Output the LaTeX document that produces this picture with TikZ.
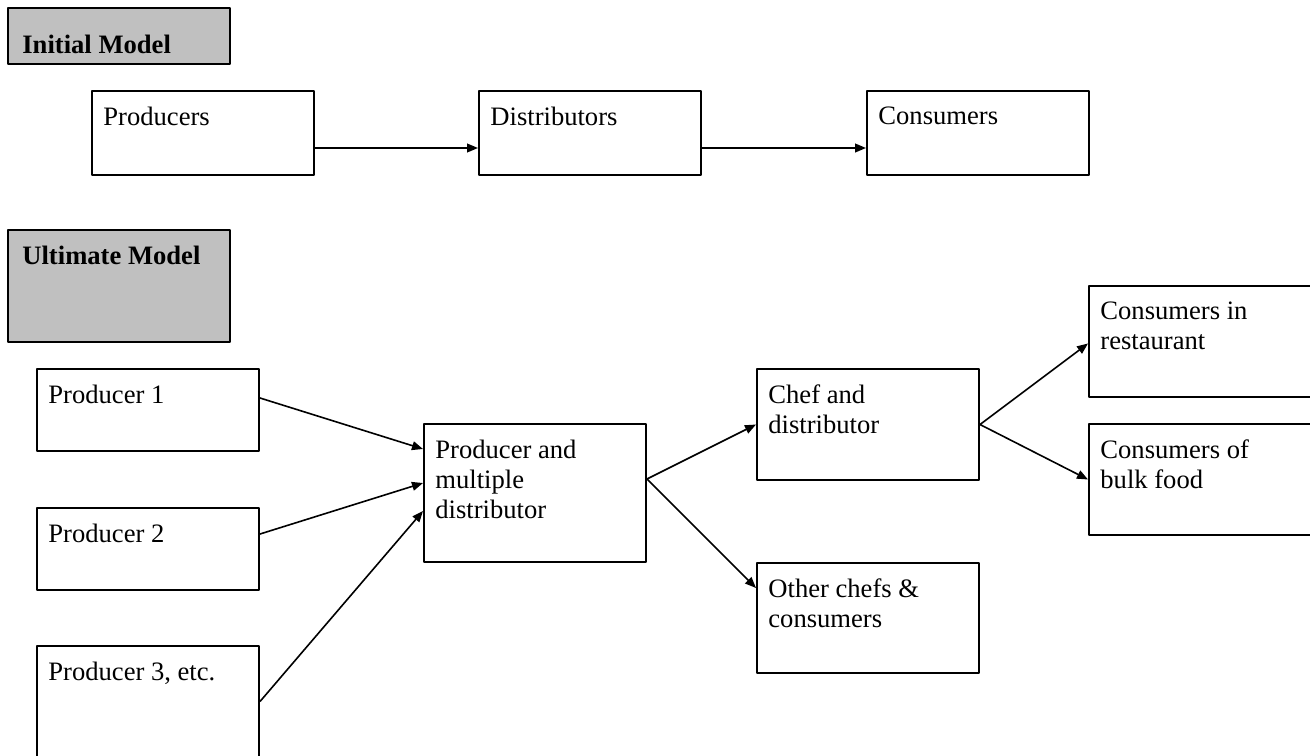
\documentclass[tikz,border=0pt]{standalone}
\usepackage{fontspec}
\setmainfont{Liberation Serif}
\usetikzlibrary{arrows.meta}
\definecolor{modelgray}{RGB}{192,192,192}
\newcommand\boxfont{\fontsize{13.3}{15}\selectfont}

\begin{document}
\begin{tikzpicture}[x=0.5pt, y=-0.5pt, font=\boxfont, line join=round, >={Triangle[length=5.5pt,width=4.4pt]},
    box/.style={draw, line width=1pt, anchor=north west, inner sep=0pt, minimum width=111pt},
    txt/.style={anchor=north west, inner sep=0pt, xshift=6pt, yshift=-8.3pt, align=left},
    head/.style={txt, xshift=1.5pt, font=\boxfont\bfseries},
    flow/.style={->, line width=0.8pt}]
    \useasboundingbox (0,0) rectangle (1310,755);
    % initial model
    \node[box, fill=modelgray, minimum height=28pt, label={[head, yshift=-5.5pt]north west:Initial Model}] (init) at (7,7) {};
    \node[box, minimum height=42pt, label={[txt]north west:Producers}] (prods) at (91,90) {};
    \node[box, minimum height=42pt, label={[txt]north west:Distributors}] (dists) at (478,90) {};
    \node[box, minimum height=42pt, label={[txt]north west:Consumers}] (cons) at (866,90) {};
    \draw[flow] ([yshift=-7.5pt]prods.east) -- ([yshift=-7.5pt]dists.west);
    \draw[flow] ([yshift=-7.5pt]dists.east) -- ([yshift=-7.5pt]cons.west);
    % ultimate model
    \node[box, fill=modelgray, minimum height=56pt, label={[head]north west:Ultimate Model}] (ult) at (7,229) {};
    \node[box, minimum height=41pt, label={[txt]north west:Producer 1}] (prodA) at (36,368) {};
    \node[box, minimum height=41pt, label={[txt]north west:Producer 2}] (prodB) at (36,507) {};
    \node[box, minimum height=57.5pt, label={[txt]north west:Producer 3, etc.}] (prodC) at (36,645) {};
    \node[box, minimum height=69pt, label={[txt]north west:Producer and\\multiple\\distributor}] (pmd) at (423,423) {};
    \node[box, minimum height=55.5pt, label={[txt]north west:Chef and\\distributor}] (chef) at (756,368) {};
    \node[box, minimum height=55pt, label={[txt]north west:Other chefs \&\\consumers}] (other) at (756,562) {};
    \node[box, minimum height=55.5pt, label={[txt]north west:Consumers in\\restaurant}] (rest) at (1088,285) {};
    \node[box, minimum height=55.5pt, label={[txt]north west:Consumers of\\bulk food}] (bulk) at (1088,423) {};
    \draw[flow] ([yshift=6pt]prodA.east) -- ([yshift=22pt]pmd.west);
    \draw[flow] ([yshift=7.5pt]prodB.east) -- ([yshift=5pt]pmd.west);
    \draw[flow] ([yshift=1pt]prodC.east) -- ([yshift=-9pt]pmd.west);
    \draw[flow] ([yshift=7pt]pmd.east) -- (chef.west);
    \draw[flow] ([yshift=7pt]pmd.east) -- ([yshift=15pt]other.west);
    \draw[flow] (chef.east) -- ([yshift=-1pt]rest.west);
    \draw[flow] (chef.east) -- (bulk.west);
\end{tikzpicture}
\end{document}
